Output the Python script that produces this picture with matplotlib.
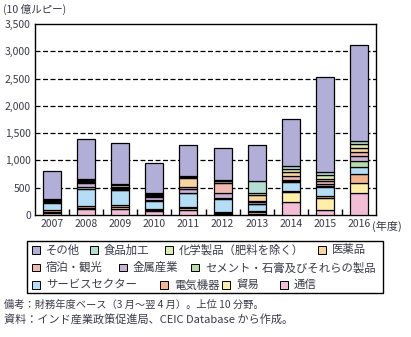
import matplotlib
matplotlib.use('Agg')
import matplotlib.pyplot as plt
import numpy as np
from matplotlib.patches import Rectangle

plt.rcParams['font.family'] = ['Noto Sans CJK JP', 'DejaVu Sans']

years = ['2007', '2008', '2009', '2010', '2011', '2012', '2013', '2014', '2015', '2016']

# stacked bottom -> top
tsushin   = [40, 110, 110, 65, 100, 20, 10, 230, 90, 398]     # 通信
boeki     = [20, 25, 40, 35, 30, 20, 50, 190, 230, 197]       # 貿易
denki     = [30, 30, 30, 10, 20, 20, 15, 20, 30, 153]         # 電気機器
service   = [135, 315, 275, 155, 245, 240, 120, 170, 170, 129]  # サービスセクター
cement    = [10, 40, 10, 15, 5, 5, 10, 20, 10, 104]           # セメント・石膏及びそれらの製品
kinzoku   = [15, 60, 20, 50, 70, 90, 25, 20, 30, 92]          # 金属産業
shukuhaku = [10, 20, 10, 20, 50, 190, 20, 60, 70, 73]         # 宿泊・観光
iyaku     = [15, 25, 20, 20, 150, 30, 115, 70, 30, 80]        # 医薬品
kagaku    = [10, 25, 40, 20, 20, 15, 45, 60, 80, 67]          # 化学製品（肥料を除く）
shokuhin  = [10, 10, 10, 20, 20, 10, 210, 60, 40, 68]         # 食品加工
sonota    = [510, 735, 750, 550, 570, 590, 670, 860, 1750, 1759]  # その他

labels = ['通信', '貿易', '電気機器', 'サービスセクター', 'セメント・石膏及びそれらの製品',
          '金属産業', '宿泊・観光', '医薬品', '化学製品（肥料を除く）', '食品加工', 'その他']
series = [tsushin, boeki, denki, service, cement, kinzoku, shukuhaku, iyaku, kagaku, shokuhin, sonota]
colors = ['#F3BDD6', '#FDEEA8', '#F3B58F', '#B4DEF6', '#B6DAA9', '#CDB2D8',
          '#F0BAB2', '#F7D59C', '#DCE9B6', '#B5DED3', '#B1AFD7']
color_of = dict(zip(labels, colors))

fig = plt.figure(figsize=(4.11, 3.37), dpi=100)
ax = fig.add_axes([35/411, 1-215/337, (376-35)/411, (215-24)/337])

x = np.arange(len(years))
bottom = np.zeros(len(years))
for lab, vals, col in zip(labels, series, colors):
    v = np.array(vals, dtype=float)
    ax.bar(x, v, bottom=bottom, width=0.53, color=col, edgecolor='black', linewidth=0.9, zorder=3)
    bottom += v

ax.set_xlim(-0.5, len(years) - 0.5)
ax.set_ylim(0, 3500)
ax.set_yticks(np.arange(0, 3501, 500))
ax.set_yticklabels([f'{v:,}' for v in range(0, 3501, 500)])
ax.set_xticks(x)
ax.set_xticklabels(years)
ax.set_xticks(np.arange(0.5, len(years) - 1, 1.0), minor=True)
ax.tick_params(axis='x', which='major', length=0, pad=3, labelsize=7.5, colors='#3a3a4a')
ax.tick_params(axis='x', which='minor', direction='in', length=4, width=1, color='black')
ax.tick_params(axis='y', length=0, pad=3, labelsize=7.5, colors='#3a3a4a')
for s in ax.spines.values():
    s.set_linewidth(1.0)
    s.set_color('black')
for yv in range(500, 3500, 500):
    ax.axhline(yv, color='black', linewidth=0.9, linestyle=(0, (4, 2)), zorder=1)

fig.text(3/411, 1-9/337, '(10 億ルピー)', fontsize=7.6, color='#3a3a4a', va='center', ha='left')
fig.text(372/411, 1-226/337, '(年度)', fontsize=8.0, color='#3a3a4a', va='center', ha='left')

# legend rows (flow layout, measured positions of the squares)
rows = [[('その他', 32), ('食品加工', 90), ('化学製品（肥料を除く）', 165), ('医薬品', 318)],
        [('宿泊・観光', 32), ('金属産業', 119), ('セメント・石膏及びそれらの製品', 191)],
        [('サービスセクター', 32), ('電気機器', 160), ('貿易', 222), ('通信', 280)]]
row_y = [250, 267.5, 285]
sq = 7.5
for r, yy in zip(rows, row_y):
    for lab, xs in r:
        fig.add_artist(Rectangle((xs/411, 1-(yy+sq/2)/337), sq/411, sq/337,
                                 transform=fig.transFigure, facecolor=color_of[lab],
                                 edgecolor='black', linewidth=0.7))
        fig.text((xs+14)/411, 1-yy/337, lab, fontsize=8.2, color='#3a3a4a',
                 va='center', ha='left')

fig.add_artist(Rectangle((27/411, 1-293/337), (383-27)/411, (293-241)/337,
                         transform=fig.transFigure, fill=False, edgecolor='black', linewidth=1.0))

fig.text(4/411, 1-305/337, '備考：財務年度ベース（3 月～翌 4 月）。上位 10 分野。', fontsize=7.4,
         color='#3a3a4a', va='center', ha='left')
fig.text(4/411, 1-320/337, '資料：インド産業政策促進局、CEIC Database から作成。', fontsize=8.0,
         color='#3a3a4a', va='center', ha='left')

fig.savefig('out.png', dpi=100)
